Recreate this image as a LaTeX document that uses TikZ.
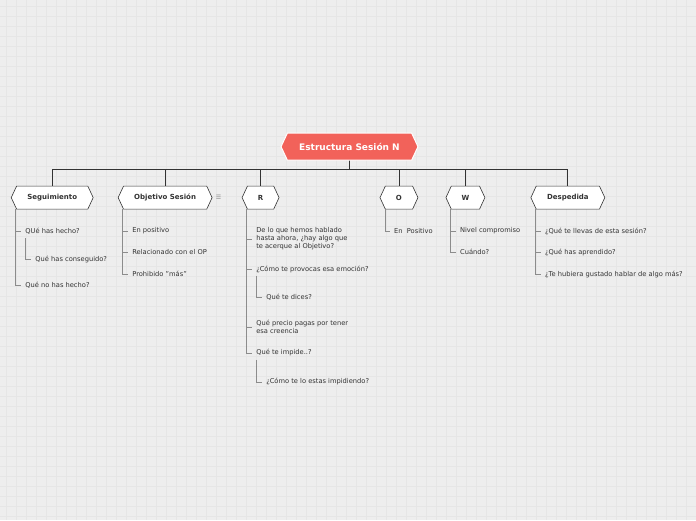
\documentclass[tikz,border=0pt]{standalone}
\usepackage{fontspec}
\setmainfont{DejaVu Sans}
\usepackage{tikz}
\usetikzlibrary{shapes.symbols,positioning}

\definecolor{rootred}{HTML}{F2625A}
\definecolor{paper}{HTML}{EEEEEE}
\definecolor{gridc}{HTML}{E6E6E6}
\definecolor{ink}{HTML}{333333}
\definecolor{twig}{HTML}{8C8C8C}

\begin{document}
\begin{tikzpicture}[x=1pt,y=-1pt,
			hexa/.style={signal, signal to=west and east, signal pointer angle=130,
				draw=ink, fill=white, line width=0.6pt, minimum height=23pt, inner sep=0pt,
				font=\fontsize{7}{8}\selectfont\bfseries, text=ink},
			rootbox/.style={hexa, fill=rootred, draw=white, line width=1pt, minimum height=27pt,
				font=\fontsize{9}{10}\selectfont\bfseries, text=white},
			leaf/.style={anchor=west, inner xsep=4pt, inner ysep=1pt, align=left,
				font=\fontsize{6.7}{8}\selectfont, text=ink},
			branch/.style={draw=ink, line width=0.7pt},
			twigline/.style={draw=twig, line width=0.6pt}]
			
			% background with grid
			\fill[paper] (0,0) rectangle (696,520);
			\foreach \g in {6,16,...,696} \draw[gridc, line width=0.5pt] (\g,0) -- (\g,520);
			\foreach \g in {6,16,...,520} \draw[gridc, line width=0.5pt] (0,\g) -- (696,\g);
			\useasboundingbox (0,0) rectangle (696,520);
			
			% main topic and subtopics
			\node[rootbox, minimum width=137pt] (root) at (349.5,146.5) {Estructura Sesión N};
			\node[hexa, minimum width=82pt] (seg) at (52,197.5) {Seguimiento};
			\node[hexa, minimum width=94pt] (obj) at (165,197.5) {Objetivo Sesión};
			\node[hexa, minimum width=37pt] (r) at (260.5,197.5) {R};
			\node[hexa, minimum width=38pt] (o) at (399,197.5) {O};
			\node[hexa, minimum width=39pt] (w) at (465.5,197.5) {W};
			\node[hexa, minimum width=74pt] (desp) at (568,197.5) {Despedida};
			\node[text=twig, font=\fontsize{6}{6}\selectfont, inner sep=0pt] (note) at (218.5,197) {☰};
			
			\foreach \c in {seg,obj,r,o,w,desp}
				\draw[branch] (root.south) -- ++(0,9) -| (\c.north);
			
			% Seguimiento
			\coordinate (seg-b) at (15,209);
			\node[leaf] (seg1) at (21,231) {QUé has hecho?};
			\coordinate (seg1-b) at (25,238);
			\node[leaf] (seg11) at (31,259) {Qué has conseguido?};
			\node[leaf] (seg2) at (21,285) {Qué no has hecho?};
			\draw[twigline] (seg-b) |- (seg1.west);
			\draw[twigline] (seg-b) |- (seg2.west);
			\draw[twigline] (seg1-b) |- (seg11.west);
			
			% Objetivo Sesion
			\coordinate (obj-b) at (122,209);
			\node[leaf] (obj1) at (128,231) {En positivo};
			\node[leaf] (obj2) at (128,252) {Relacionado con el OP};
			\node[leaf] (obj3) at (128,274) {Prohibido "más"};
			\foreach \l in {obj1,obj2,obj3}
				\draw[twigline] (obj-b) |- (\l.west);
			
			% R
			\coordinate (r-b) at (246,209);
			\node[leaf] (r1) at (252,239) {De lo que hemos hablado\\hasta ahora, ¿hay algo que\\te acerque al Objetivo?};
			\node[leaf] (r2) at (252,269) {¿Cómo te provocas esa emoción?};
			\coordinate (r2-b) at (256,276);
			\node[leaf] (r21) at (262,297) {Qué te dices?};
			\node[leaf] (r3) at (252,327) {Qué precio pagas por tener\\esa creencia};
			\node[leaf] (r4) at (252,353) {Qué te impide..?};
			\coordinate (r4-b) at (256,360);
			\node[leaf] (r41) at (262,382) {¿Cómo te lo estas impidiendo?};
			\foreach \l in {r1,r2,r3,r4}
				\draw[twigline] (r-b) |- (\l.west);
			\draw[twigline] (r2-b) |- (r21.west);
			\draw[twigline] (r4-b) |- (r41.west);
			
			% O
			\coordinate (o-b) at (385,209);
			\node[leaf] (o1) at (390,231) {En\ \ Positivo};
			\draw[twigline] (o-b) |- (o1.west);
			
			% W
			\coordinate (w-b) at (450,209);
			\node[leaf] (w1) at (456,231) {Nivel compromiso};
			\node[leaf] (w2) at (456,252) {Cuándo?};
			\foreach \l in {w1,w2}
				\draw[twigline] (w-b) |- (\l.west);
			
			% Despedida
			\coordinate (desp-b) at (535,209);
			\node[leaf] (desp1) at (541,231) {¿Qué te llevas de esta sesión?};
			\node[leaf] (desp2) at (541,252) {¿Qué has aprendido?};
			\node[leaf] (desp3) at (541,274) {¿Te hubiera gustado hablar de algo más?};
			\foreach \l in {desp1,desp2,desp3}
				\draw[twigline] (desp-b) |- (\l.west);
			
		\end{tikzpicture}
\end{document}
